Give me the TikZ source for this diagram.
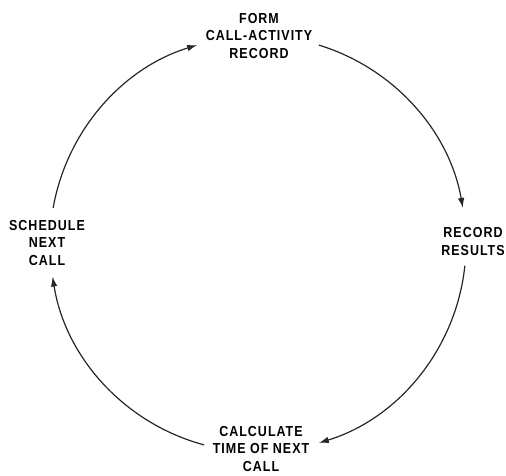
\documentclass[tikz,border=0pt]{standalone}
\usepackage{fontspec}
\setmainfont[FakeStretch=0.86,LetterSpace=7]{Liberation Sans}
\usetikzlibrary{arrows.meta,calc}
\begin{document}
\begin{tikzpicture}[x=1pt,y=1pt,
  lbl/.style={align=center,inner sep=0pt,font=\fontsize{14.5}{17.8}\selectfont\bfseries},
  cyc/.style={line width=1.2pt,color=black!85,-{Latex[length=10pt,width=6.5pt]}}]
\useasboundingbox (0,0) rectangle (506,476);
\node[lbl] (form) at (259,440) {FORM\\CALL-ACTIVITY\\RECORD};
\node[lbl] (rec) at (473,234.5) {RECORD\\RESULTS};
\node[lbl] (calc) at (261,27) {CALCULATE\\TIME OF NEXT\\CALL};
\node[lbl] (sched) at (47,233) {SCHEDULE\\NEXT\\CALL};
\coordinate (c) at (258,232);
\coordinate (s1) at ($(c)+(73:208)$);
\coordinate (s2) at ($(c)+(-6:208)$);
\coordinate (s3) at ($(c)+(-105:208)$);
\coordinate (s4) at ($(c)+(170:208)$);
\draw[cyc] (s1) arc[start angle=73, end angle=10, radius=208];
\draw[cyc] (s2) arc[start angle=-6, end angle=-73, radius=208];
\draw[cyc] (s3) arc[start angle=-105, end angle=-171, radius=208];
\draw[cyc] (s4) arc[start angle=170, end angle=107, radius=208];
\end{tikzpicture}
\end{document}
